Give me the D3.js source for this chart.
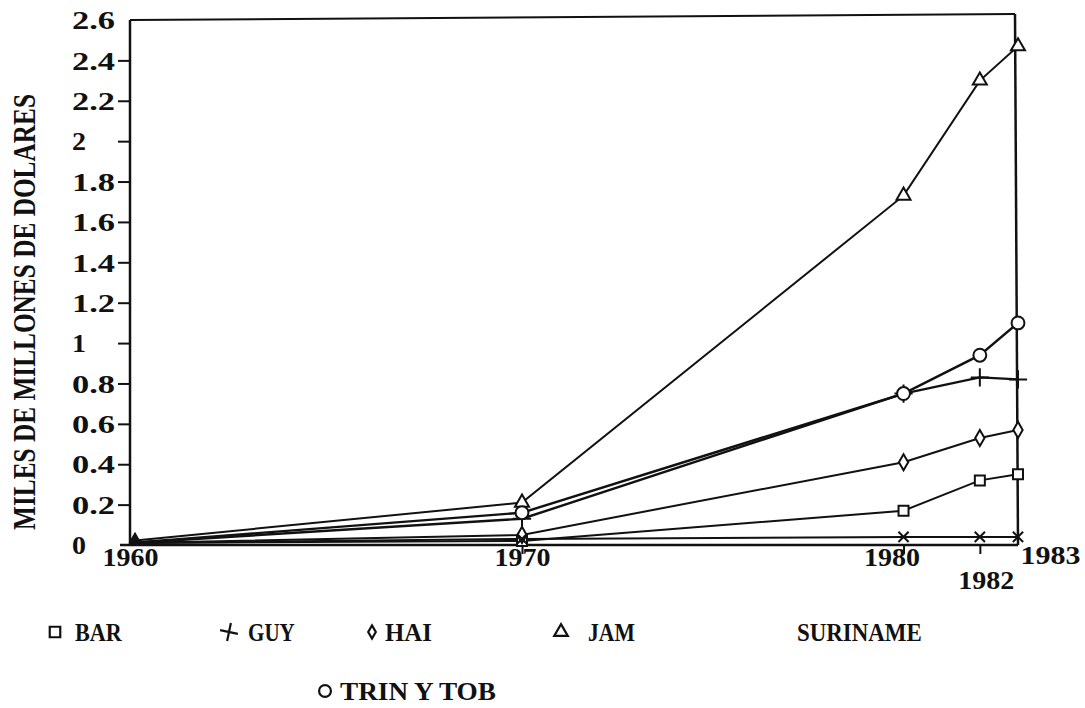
<!DOCTYPE html>
<html>
<head>
<meta charset="utf-8">
<script src="https://cdn.jsdelivr.net/npm/d3@7"></script>
<style>
  body { margin: 0; background: #fff; }
  text { font-family: "Liberation Serif", "Times New Roman", serif; font-weight: bold; fill: #111; }
  .domain { display: none; }
</style>
</head>
<body>
<div id="chart"></div>
<script>
// chart data
var years = [1960, 1970, 1980, 1982, 1983];
var bar  = [0.01, 0.02, 0.17, 0.32, 0.35];
var guy  = [0.01, 0.13, 0.75, 0.83, 0.82];
var hai  = [0.01, 0.05, 0.41, 0.53, 0.57];
var jam  = [0.02, 0.21, 1.73, 2.30, 2.47];
var sur  = [0.01, 0.03, 0.04, 0.04, 0.04];
var trin = [0.01, 0.16, 0.75, 0.94, 1.10];

var seriesNames = ["BAR", "GUY", "HAI", "JAM", "SURINAME", "TRIN Y TOB"];
var yTicks = [0, 0.2, 0.4, 0.6, 0.8, 1, 1.2, 1.4, 1.6, 1.8, 2, 2.2, 2.4, 2.6];
var yTickLabels = ["0", "0.2", "0.4", "0.6", "0.8", "1", "1.2", "1.4", "1.6", "1.8", "2", "2.2", "2.4", "2.6"];
var xTicks = [1960, 1970, 1980, 1982, 1983];
var yTitle = "MILES DE MILLONES DE DOLARES";

var W = 1085, H = 708;
var plotLeft = 130, plotRight = 1018, plotTop = 20, plotBottom = 545;

// the hand drawn axis is slightly uneven, so use a polylinear scale
var x = d3.scaleLinear().domain([1960, 1970, 1983]).range([plotLeft, 522, plotRight]);
var y = d3.scaleLinear().domain([0, 2.6]).range([plotBottom, plotTop]);

var svg = d3.select("#chart").append("svg")
    .attr("width", W)
    .attr("height", H);

// frame
svg.append("line").attr("x1", plotLeft).attr("x2", plotRight - 3).attr("y1", plotTop).attr("y2", plotTop - 6)
    .attr("stroke", "#111").attr("stroke-width", 2);
svg.append("line").attr("x1", plotLeft).attr("x2", plotLeft).attr("y1", plotTop).attr("y2", plotBottom)
    .attr("stroke", "#111").attr("stroke-width", 2.5);
svg.append("line").attr("x1", plotRight - 3).attr("x2", plotRight).attr("y1", plotTop - 6).attr("y2", plotBottom)
    .attr("stroke", "#111").attr("stroke-width", 2.5);
svg.append("line").attr("x1", plotLeft - 10).attr("x2", plotRight).attr("y1", plotBottom).attr("y2", plotBottom)
    .attr("stroke", "#111").attr("stroke-width", 2.5);

// y axis
var yAxis = svg.append("g")
    .attr("transform", "translate(" + plotLeft + ",0)")
    .call(d3.axisLeft(y)
        .tickValues(yTicks)
        .tickSize(12)
        .tickFormat(function(d, i) { return yTickLabels[i]; }));
yAxis.selectAll("line").attr("stroke", "#111").attr("stroke-width", 2);
yAxis.selectAll("text")
    .attr("x", -58)
    .attr("dy", "0.35em")
    .attr("text-anchor", "start")
    .style("font-size", "25px")
    .attr("textLength", function(d, i) { return yTickLabels[i].length === 1 ? 14 : 43; })
    .attr("lengthAdjust", "spacingAndGlyphs");
yAxis.selectAll(".tick").filter(function(d) { return d === 0 || d === 2.6; }).select("line").remove();

// x axis
var xAxis = svg.append("g")
    .attr("transform", "translate(0," + plotBottom + ")")
    .call(d3.axisBottom(x)
        .tickValues(xTicks)
        .tickSize(9)
        .tickFormat(d3.format("d")));
xAxis.selectAll("line").attr("stroke", "#111").attr("stroke-width", 2);
xAxis.selectAll("text")
    .style("font-size", "25px")
    .attr("y", 3)
    .attr("textLength", 56)
    .attr("lengthAdjust", "spacingAndGlyphs");
xAxis.selectAll(".tick").filter(function(d) { return d === 1960 || d === 1983; }).select("line").remove();
xAxis.selectAll(".tick").filter(function(d) { return d === 1980; }).select("text").attr("x", -12);
xAxis.selectAll(".tick").filter(function(d) { return d === 1982; }).select("text").attr("x", 6).attr("y", 26);
xAxis.selectAll(".tick").filter(function(d) { return d === 1983; }).select("text")
    .attr("text-anchor", "start").attr("x", 2).attr("y", 1).attr("textLength", 60);

// y title, stretched like the typewriter lettering
svg.append("text")
    .attr("transform", "translate(35,312) rotate(-90) scale(1,1.15)")
    .attr("text-anchor", "middle")
    .style("font-size", "28px")
    .attr("textLength", 436)
    .attr("lengthAdjust", "spacingAndGlyphs")
    .text(yTitle);

// marker shapes
var symbols = {
    "BAR": d3.symbolSquare,
    "GUY": d3.symbolPlus || d3.symbolCross,
    "HAI": d3.symbolDiamond,
    "JAM": d3.symbolTriangle,
    "SURINAME": d3.symbolTimes || d3.symbolX,
    "TRIN Y TOB": d3.symbolCircle
};
var sizes = { "BAR": 100, "GUY": 110, "HAI": 75, "JAM": 85, "SURINAME": 70, "TRIN Y TOB": 130 };

var allValues = [bar, guy, hai, jam, sur, trin];
var series = seriesNames.map(function(name, i) {
    return {
        name: name,
        points: years.map(function(yr, j) { return { year: yr, value: allValues[i][j] }; })
    };
});

var line = d3.line()
    .x(function(d) { return x(d.year); })
    .y(function(d) { return y(d.value); });

svg.selectAll(".series-line")
    .data(series)
    .enter()
    .append("path")
    .attr("class", "series-line")
    .attr("d", function(s) { return line(s.points); })
    .attr("fill", "none")
    .attr("stroke", "#111")
    .attr("stroke-width", function(s) { return s.name === "GUY" || s.name === "TRIN Y TOB" ? 2.4 : 2; });

series.forEach(function(s) {
    var open = s.name !== "GUY" && s.name !== "SURINAME";
    svg.selectAll(null)
        .data(s.points.slice(1))
        .enter()
        .append("path")
        .attr("transform", function(d) { return "translate(" + x(d.year) + "," + y(d.value) + ")"; })
        .attr("d", d3.symbol().type(symbols[s.name]).size(sizes[s.name]))
        .attr("fill", open ? "#fff" : "none")
        .attr("stroke", "#111")
        .attr("stroke-width", 2);
});

// blob where every series starts
svg.append("path")
    .attr("transform", "translate(" + (x(1960) + 5) + "," + (y(0) - 6) + ")")
    .attr("d", d3.symbol().type(d3.symbolTriangle).size(70))
    .attr("fill", "#111");

// legend
var legendItems = [
    { name: "BAR", sx: 55, tx: 75, ty: 641 },
    { name: "GUY", sx: 229, tx: 248, ty: 641 },
    { name: "HAI", sx: 372, tx: 385, ty: 641 },
    { name: "JAM", sx: 561, tx: 588, ty: 641 },
    { name: "SURINAME", sx: null, tx: 797, ty: 641 },
    { name: "TRIN Y TOB", sx: 325, tx: 340, ty: 700 }
];

var legend = svg.append("g");
legendItems.forEach(function(it) {
    if (it.sx !== null) {
        legend.append("path")
            .attr("transform", "translate(" + it.sx + "," + (it.ty - 9) + ")" + (it.name === "GUY" ? " rotate(12)" : ""))
            .attr("d", d3.symbol().type(symbols[it.name]).size(it.name === "HAI" ? 50 : (it.name === "JAM" ? 80 : 110)))
            .attr("fill", it.name === "GUY" ? "none" : "#fff")
            .attr("stroke", "#111")
            .attr("stroke-width", 2.2);
    }
    legend.append("text")
        .attr("x", it.tx)
        .attr("y", it.ty)
        .style("font-size", "26px")
        .attr("textLength", it.name.length * 15.6)
        .attr("lengthAdjust", "spacingAndGlyphs")
        .text(it.name);
});
</script>
</body>
</html>
